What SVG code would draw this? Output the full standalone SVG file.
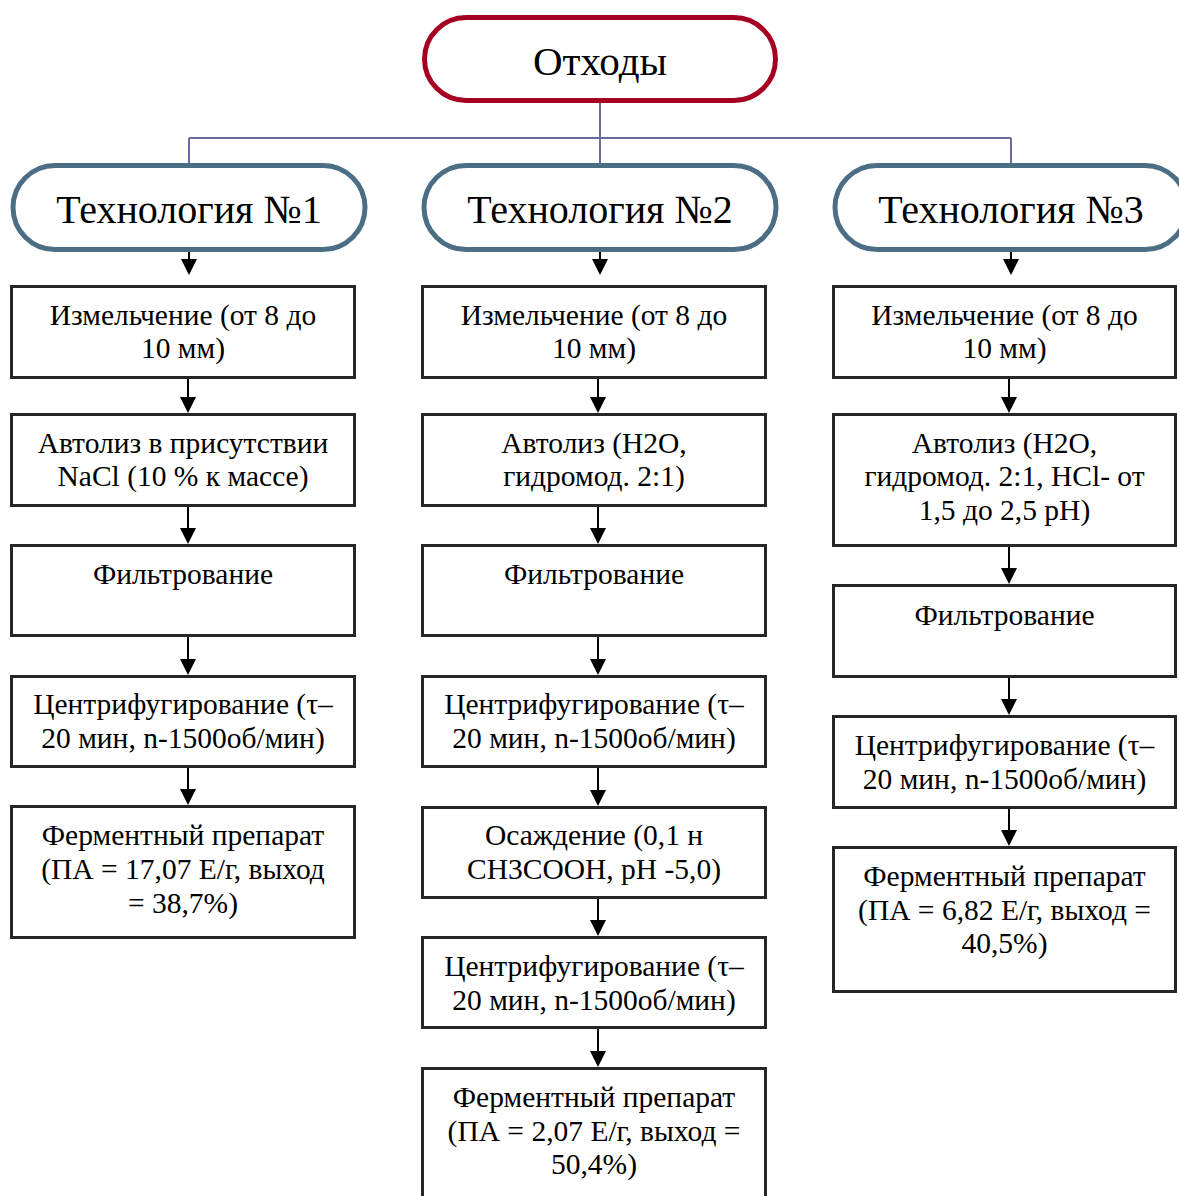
<svg xmlns="http://www.w3.org/2000/svg" width="1179" height="1196" viewBox="0 0 1179 1196">
<style>
.bg{fill:#ffffff}
.root{fill:#ffffff;stroke:#A50021;stroke-width:5}
.tech{fill:#ffffff;stroke:#4B6E84;stroke-width:5}
.box{fill:#ffffff;stroke:#262626;stroke-width:3}
.big{font-family:"Liberation Serif","Times New Roman",serif;font-size:40px;fill:#000;text-anchor:middle}
.rt{font-size:41px}
.t{font-family:"Liberation Serif","Times New Roman",serif;font-size:29.5px;fill:#000;text-anchor:middle}
.tree{fill:none;stroke:#6A6A9C;stroke-width:2}
.arr{fill:none;stroke:#000;stroke-width:2;marker-end:url(#ah)}
</style>
<defs>
<marker id="ah" viewBox="0 0 16 16" refX="8" refY="8" markerWidth="16" markerHeight="16" markerUnits="userSpaceOnUse" orient="auto">
<path d="M0,0 L16,8 L0,16 z" fill="#000"/>
</marker>
</defs>
<rect class="bg" x="0" y="0" width="1179" height="1196"/>

<g id="connectors">
<path class="tree" d="M600,102 V165 M189,138 H1011 M189,138 V165 M1011,138 V165"/>
<line class="arr" x1="189" y1="251" x2="189" y2="267"/>
<line class="arr" x1="600" y1="251" x2="600" y2="267"/>
<line class="arr" x1="1011" y1="251" x2="1011" y2="267"/>
<!-- col1 -->
<line class="arr" x1="188" y1="377" x2="188" y2="405"/>
<line class="arr" x1="188" y1="505" x2="188" y2="536"/>
<line class="arr" x1="188" y1="635" x2="188" y2="667"/>
<line class="arr" x1="188" y1="766" x2="188" y2="797"/>
<!-- col2 -->
<line class="arr" x1="598" y1="377" x2="598" y2="405"/>
<line class="arr" x1="598" y1="505" x2="598" y2="536"/>
<line class="arr" x1="598" y1="635" x2="598" y2="667"/>
<line class="arr" x1="598" y1="766" x2="598" y2="798"/>
<line class="arr" x1="598" y1="897" x2="598" y2="928"/>
<line class="arr" x1="598" y1="1028" x2="598" y2="1059"/>
<!-- col3 -->
<line class="arr" x1="1009" y1="377" x2="1009" y2="405"/>
<line class="arr" x1="1009" y1="545" x2="1009" y2="576"/>
<line class="arr" x1="1009" y1="676" x2="1009" y2="707"/>
<line class="arr" x1="1009" y1="807" x2="1009" y2="838"/>
</g>

<g id="root">
<rect class="root" x="424.5" y="17.5" width="351" height="83" rx="41.5"/>
<text class="big rt" x="600" y="75">Отходы</text>
</g>

<g id="tech1">
<rect class="tech" x="13" y="165.5" width="352" height="84" rx="42"/>
<text class="big" x="189" y="223">Технология №1</text>
</g>
<g id="tech2">
<rect class="tech" x="424" y="165.5" width="352" height="84" rx="42"/>
<text class="big" x="600" y="223">Технология №2</text>
</g>
<g id="tech3">
<rect class="tech" x="835" y="165.5" width="352" height="84" rx="42"/>
<text class="big" x="1011" y="223">Технология №3</text>
</g>

<!-- column 1 -->
<g id="c1b1">
<rect class="box" x="11.5" y="286.5" width="343" height="91"/>
<text class="t" x="183" y="325">Измельчение (от 8 до</text>
<text class="t" x="183" y="358">10 мм)</text>
</g>
<g id="c1b2">
<rect class="box" x="11.5" y="414.5" width="343" height="91"/>
<text class="t" x="183" y="453">Автолиз в присутствии</text>
<text class="t" x="183" y="486">NaCl (10 % к массе)</text>
</g>
<g id="c1b3">
<rect class="box" x="11.5" y="545.5" width="343" height="90"/>
<text class="t" x="183" y="584">Фильтрование</text>
</g>
<g id="c1b4">
<rect class="box" x="11.5" y="676.5" width="343" height="90"/>
<text class="t" x="183" y="714">Центрифугирование (τ–</text>
<text class="t" x="183" y="748">20 мин, n-1500об/мин)</text>
</g>
<g id="c1b5">
<rect class="box" x="11.5" y="806.5" width="343" height="131"/>
<text class="t" x="183" y="845">Ферментный препарат</text>
<text class="t" x="183" y="879">(ПА = 17,07 Е/г, выход</text>
<text class="t" x="183" y="913">= 38,7%)</text>
</g>

<!-- column 2 -->
<g id="c2b1">
<rect class="box" x="422.5" y="286.5" width="343" height="91"/>
<text class="t" x="594" y="325">Измельчение (от 8 до</text>
<text class="t" x="594" y="358">10 мм)</text>
</g>
<g id="c2b2">
<rect class="box" x="422.5" y="414.5" width="343" height="91"/>
<text class="t" x="594" y="453">Автолиз (H2O,</text>
<text class="t" x="594" y="486">гидромод. 2:1)</text>
</g>
<g id="c2b3">
<rect class="box" x="422.5" y="545.5" width="343" height="90"/>
<text class="t" x="594" y="584">Фильтрование</text>
</g>
<g id="c2b4">
<rect class="box" x="422.5" y="676.5" width="343" height="90"/>
<text class="t" x="594" y="714">Центрифугирование (τ–</text>
<text class="t" x="594" y="748">20 мин, n-1500об/мин)</text>
</g>
<g id="c2b5">
<rect class="box" x="422.5" y="807.5" width="343" height="90"/>
<text class="t" x="594" y="845">Осаждение (0,1 н</text>
<text class="t" x="594" y="879">CH3COOH, pH -5,0)</text>
</g>
<g id="c2b6">
<rect class="box" x="422.5" y="937.5" width="343" height="90"/>
<text class="t" x="594" y="976">Центрифугирование (τ–</text>
<text class="t" x="594" y="1010">20 мин, n-1500об/мин)</text>
</g>
<g id="c2b7">
<rect class="box" x="422.5" y="1068.5" width="343" height="140"/>
<text class="t" x="594" y="1107">Ферментный препарат</text>
<text class="t" x="594" y="1141">(ПА = 2,07 Е/г, выход =</text>
<text class="t" x="594" y="1174">50,4%)</text>
</g>

<!-- column 3 -->
<g id="c3b1">
<rect class="box" x="833.5" y="286.5" width="342" height="91"/>
<text class="t" x="1004.5" y="325">Измельчение (от 8 до</text>
<text class="t" x="1004.5" y="358">10 мм)</text>
</g>
<g id="c3b2">
<rect class="box" x="833.5" y="414.5" width="342" height="131"/>
<text class="t" x="1004.5" y="453">Автолиз (H2O,</text>
<text class="t" x="1004.5" y="486">гидромод. 2:1, HCl- от</text>
<text class="t" x="1004.5" y="520">1,5 до 2,5 pH)</text>
</g>
<g id="c3b3">
<rect class="box" x="833.5" y="585.5" width="342" height="91"/>
<text class="t" x="1004.5" y="625">Фильтрование</text>
</g>
<g id="c3b4">
<rect class="box" x="833.5" y="716.5" width="342" height="91"/>
<text class="t" x="1004.5" y="755">Центрифугирование (τ–</text>
<text class="t" x="1004.5" y="789">20 мин, n-1500об/мин)</text>
</g>
<g id="c3b5">
<rect class="box" x="833.5" y="847.5" width="342" height="144"/>
<text class="t" x="1004.5" y="886">Ферментный препарат</text>
<text class="t" x="1004.5" y="920">(ПА = 6,82 Е/г, выход =</text>
<text class="t" x="1004.5" y="953">40,5%)</text>
</g>
</svg>
